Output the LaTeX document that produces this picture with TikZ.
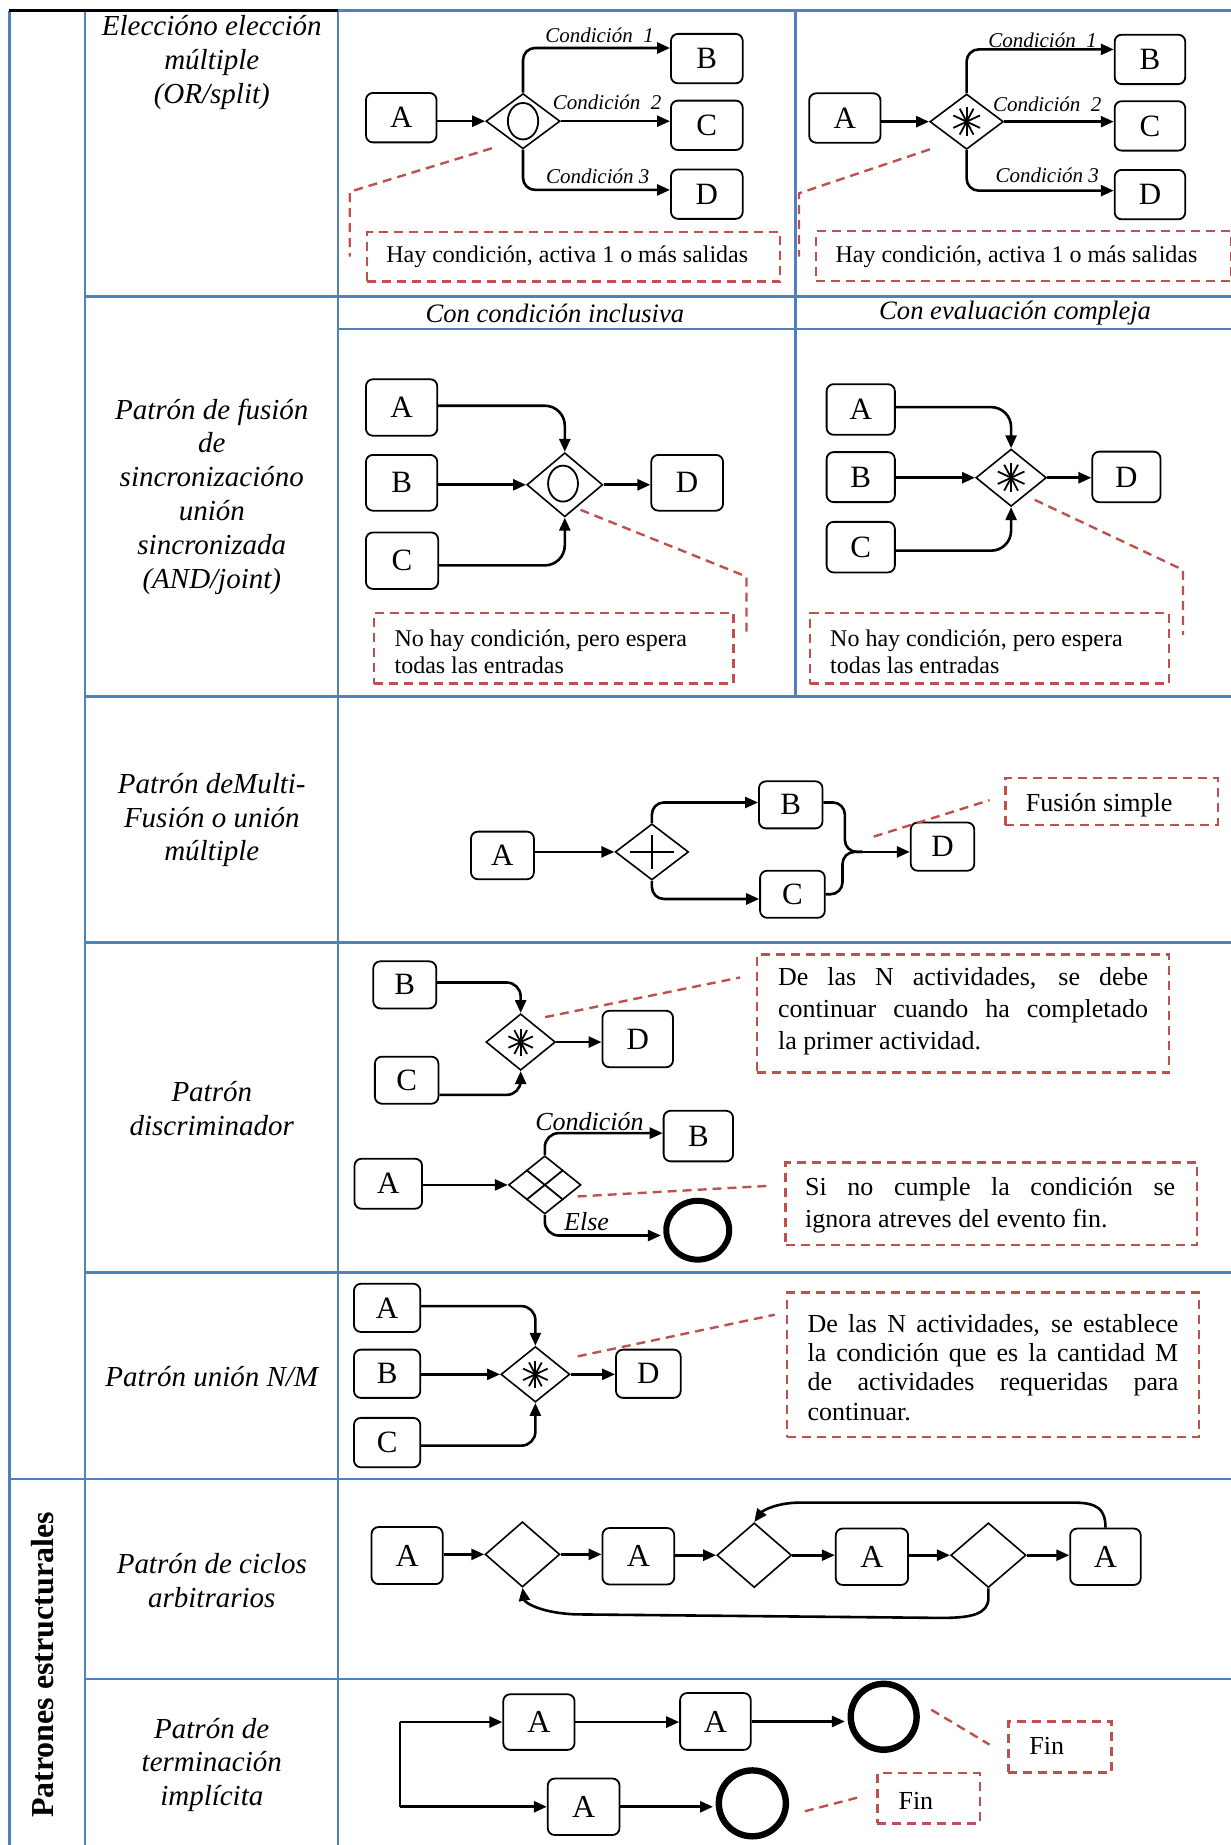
\documentclass[tikz,border=0pt]{standalone}
\usepackage{fontspec}
\setmainfont{Liberation Serif}
\usetikzlibrary{shapes.geometric,arrows.meta,calc}
\definecolor{gridblue}{HTML}{4F81BD}
\definecolor{notered}{HTML}{C0504D}
\newcommand{\upx}{0.58845pt}
\newcommand{\drawast}[2]{\foreach \angx in {90,25,155,62,118}{\draw[line width=0.9pt] ($(#1.center)+(\angx:#2)$) -- ($(#1.center)+(\angx+180:#2)$);}}
\begin{document}
\begin{tikzpicture}[x=0.58845pt,y=-0.58845pt,
  grid/.style={draw=gridblue,line width=1.1pt},
  lbl/.style={align=center,inner sep=0pt,font=\fontsize{14.5}{16.9}\selectfont\itshape},
  hdr/.style={inner sep=0pt,font=\fontsize{13.3}{15}\selectfont\itshape},
  bx/.style 2 args={draw,line width=0.9pt,rounded corners=3.5pt,inner sep=0pt,minimum width=#1*\upx,minimum height=#2*\upx,font=\fontsize{15.5}{18}\selectfont},
  gw/.style 2 args={draw,diamond,line width=0.8pt,inner sep=0pt,minimum width=#1*\upx,minimum height=#2*\upx},
  endev/.style 2 args={draw,ellipse,line width=3pt,inner sep=0pt,minimum width=#1*\upx,minimum height=#2*\upx},
  arr/.style={line width=1.3pt,-{Triangle[length=6.5pt,width=5.5pt]}},
  flow/.style={line width=1.3pt},
  sym/.style={line width=0.9pt},
  note/.style 2 args={draw=notered,line width=1.2pt,dash pattern=on 4.5pt off 3pt,inner sep=0pt,anchor=north west,minimum width=#1*\upx,minimum height=#2*\upx},
  noteline/.style={draw=notered,line width=1.2pt,dash pattern=on 4.5pt off 3pt},
  ntxt/.style={inner sep=0pt,anchor=west,align=left,font=\fontsize{12}{13.4}\selectfont},
  ntxtb/.style={inner sep=0pt,anchor=west,align=left,font=\fontsize{13}{15.9}\selectfont},
  condA/.style={inner sep=0pt,font=\fontsize{10.5}{12}\selectfont\itshape},
  condB/.style={inner sep=0pt,font=\fontsize{13}{15}\selectfont\itshape}
]
\useasboundingbox (0,0) rectangle (1046,1568);

% ---------- table grid ----------
\draw[grid] (287,9) -- (1046,9);
\draw[grid] (8,9) -- (8,1568);
\draw[grid] (72,9) -- (72,1568);
\draw[grid] (287,9) -- (287,1568);
\draw[grid] (676,9) -- (676,592);
\draw[grid] (72,252) -- (1046,252);
\draw[grid] (287,279.5) -- (1046,279.5);
\draw[grid] (72,592) -- (1046,592);
\draw[grid] (72,801) -- (1046,801);
\draw[grid] (72,1081.5) -- (1046,1081.5);
\draw[grid] (8,1257) -- (1046,1257);
\draw[grid] (72,1427) -- (1046,1427);
\draw[black,line width=1.4pt] (8,9) -- (287,9);

% ---------- left labels ----------
\node[lbl] (l1) at (180,53) {Eleccióno elección\\múltiple\\(OR/split)};
\node[lbl] (l2) at (180,422) {Patrón de fusión\\de\\sincronizacióno\\unión\\sincronizada\\(AND/joint)};
\node[lbl] (l3) at (180,697) {Patrón deMulti-\\Fusión o unión\\múltiple};
\node[lbl] (l4) at (180,942) {Patrón\\discriminador};
\node[lbl] (l5) at (180,1170) {Patrón unión N/M};
\node[lbl] (l6) at (180,1343) {Patrón de ciclos\\arbitrarios};
\node[lbl] (l7) at (180,1500) {Patrón de\\terminación\\implícita};
\node[rotate=90,inner sep=0pt,font=\fontsize{16}{18}\selectfont\bfseries] (grp) at (36,1415) {Patrones estructurales};

\node[hdr] (h1) at (471.6,266) {Con condición inclusiva};
\node[hdr] (h2) at (862.7,266) {Con evaluación compleja};

% ---------- row 1 left ----------
\node[bx={60}{42}] (oA) at (341,100) {A};
\node[gw={63}{47}] (oG) at (444.5,103) {};
\draw[sym] (oG.center) ellipse [x radius=12.9, y radius=15.5];
\node[bx={61}{42}] (oB) at (600.7,49.8) {B};
\node[bx={61}{42}] (oC) at (600.7,106.5) {C};
\node[bx={61}{42}] (oD) at (600.7,165) {D};
\draw[arr] (oG.west -| oA.east) -- (oG.west);
\draw[arr,rounded corners=6pt] (oG.north) |- ([yshift=9*\upx]oB.west);
\draw[arr] (oG.east) -- (oG.east -| oC.west);
\draw[arr,rounded corners=6pt] (oG.south) |- ([yshift=3.6*\upx]oD.west);
\node[condA] (oL1) at (509.5,30) {Condición\ \ 1};
\node[condA] (oL2) at (516,87) {Condición\ \ 2};
\node[condA] (oL3) at (508,150) {Condición 3};
\node[note={351}{42}] (oN) at (311,196.3) {};
\node[ntxt] (oT) at (328,218) {Hay condición, activa 1 o más salidas};
\coordinate (oP1) at (418,126);
\coordinate (oP2) at (297.2,163);
\coordinate (oP3) at (297.2,218);
\draw[noteline] (oP1) -- (oP2) -- (oP3);

% ---------- row 1 right ----------
\node[bx={60.6}{42}] (xA) at (718,100.3) {A};
\node[gw={62.5}{47}] (xG) at (821.5,103.4) {};
\drawast{xG}{12.5}
\node[bx={60}{42}] (xB) at (977.3,50.5) {B};
\node[bx={60}{42}] (xC) at (977.3,107) {C};
\node[bx={60}{42}] (xD) at (977.3,165.4) {D};
\draw[arr] (xG.west -| xA.east) -- (xG.west);
\draw[arr,rounded corners=6pt] (xG.north) |- ([yshift=8.5*\upx]xB.west);
\draw[arr] (xG.east) -- (xG.east -| xC.west);
\draw[arr,rounded corners=6pt] (xG.south) |- ([yshift=3.4*\upx]xD.west);
\node[condA] (xL1) at (886,34) {Condición\ \ 1};
\node[condA] (xL2) at (890,89) {Condición\ \ 2};
\node[condA] (xL3) at (890,149) {Condición 3};
\node[note={352.3}{42.5}] (xN) at (692.7,195.5) {};
\node[ntxt] (xT) at (709.8,218) {Hay condición, activa 1 o más salidas};
\coordinate (xP1) at (790.2,126.9);
\coordinate (xP2) at (679,164.3);
\coordinate (xP3) at (679,218);
\draw[noteline] (xP1) -- (xP2) -- (xP3);

% ---------- row 2 left ----------
\node[bx={60.6}{48}] (iA) at (341.3,346.3) {A};
\node[bx={60.6}{47.4}] (iB) at (341.3,410.3) {B};
\node[bx={61.4}{48}] (iC) at (341.7,476.5) {C};
\node[gw={64.5}{54.5}] (iG) at (480,412) {};
\draw[sym] ($(iG.center)+(-1.5,-1)$) ellipse [x radius=12.7, y radius=15.3];
\node[bx={61}{47.4}] (iD) at (584,410.3) {D};
\draw[arr,rounded corners=10pt] ([yshift=1.5*\upx]iA.east) -| (iG.north);
\draw[arr] (iG.west -| iB.east) -- (iG.west);
\draw[arr,rounded corners=10pt] ([yshift=-4*\upx]iC.east) -| (iG.south);
\draw[arr] (iG.east) -- (iG.east -| iD.west);
\node[note={305.5}{60.3}] (iN) at (317,519.7) {};
\node[ntxt] (iT) at (335,553.7) {No hay condición, pero espera\\todas las entradas};
\coordinate (iP1) at (493.4,433.3);
\coordinate (iP2) at (634.4,490);
\coordinate (iP3) at (634.4,536.7);
\draw[noteline] (iP1) -- (iP2) -- (iP3);

% ---------- row 2 right ----------
\node[bx={58}{43}] (eA) at (731.5,348) {A};
\node[bx={58}{42.5}] (eB) at (731.5,405.5) {B};
\node[bx={58}{43}] (eC) at (731.5,465) {C};
\node[gw={60}{48.7}] (eG) at (859.3,406) {};
\drawast{eG}{12.5}
\node[bx={58}{43}] (eD) at (957.3,405.3) {D};
\draw[arr,rounded corners=10pt] ([yshift=2*\upx]eA.east) -| (eG.north);
\draw[arr] (eG.west -| eB.east) -- (eG.west);
\draw[arr,rounded corners=10pt] ([yshift=-3*\upx]eC.east) -| (eG.south);
\draw[arr] (eG.east) -- (eG.east -| eD.west);
\node[note={305}{60.3}] (eN) at (687.6,519.7) {};
\node[ntxt] (eT) at (705.2,553.7) {No hay condición, pero espera\\todas las entradas};
\coordinate (eP1) at (879.4,424.8);
\coordinate (eP2) at (1005.4,484.3);
\coordinate (eP3) at (1005.4,539.5);
\draw[noteline] (eP1) -- (eP2) -- (eP3);

% ---------- row 3 ----------
\node[bx={53.5}{40.5}] (mA) at (427,727) {A};
\node[gw={62.4}{47.7}] (mG) at (554,724) {};
\draw[sym] ($(mG.center)+(-19,0)$) -- ($(mG.center)+(19,0)$);
\draw[sym] ($(mG.center)+(0,-14.5)$) -- ($(mG.center)+(0,14.5)$);
\node[bx={54}{40}] (mB) at (672,684) {B};
\node[bx={55}{40}] (mC) at (673.5,760) {C};
\node[bx={54}{41}] (mD) at (801,719.5) {D};
\coordinate (mM) at (733,724);
\draw[arr] (mG.west -| mA.east) -- (mG.west);
\draw[arr,rounded corners=6pt] (mG.north) |- ([yshift=2*\upx]mB.west);
\draw[arr,rounded corners=6pt] (mG.south) |- ([yshift=-4*\upx]mC.west);
\draw[flow,rounded corners=6pt] ([yshift=2*\upx]mB.east) -- (718,682) -- (718,724) -- (mM);
\draw[flow,rounded corners=6pt] (mC.east) -- (716,760) -- (716,724) -- (mM);
\draw[arr] (mM) -- (mM -| mD.west);
\node[note={180.5}{40}] (mN) at (853.5,660) {};
\node[ntxtb] (mT) at (871.5,684) {Fusión simple};
\coordinate (mP1) at (742.6,711);
\coordinate (mP2) at (841,680);
\draw[noteline] (mP1) -- (mP2);

% ---------- row 4 top ----------
\node[bx={53.5}{40}] (dB) at (344,837) {B};
\node[bx={54}{40}] (dC) at (345.6,918) {C};
\node[gw={59}{48}] (dG) at (442.5,885.6) {};
\drawast{dG}{11.5}
\node[bx={60}{48}] (dD) at (542,883) {D};
\draw[arr,rounded corners=7pt] ([yshift=2*\upx]dB.east) -| (dG.north);
\draw[arr,rounded corners=7pt] ([yshift=-12.5*\upx]dC.east) -| (dG.south);
\draw[arr] (dG.east) -- (dG.east -| dD.west);
\node[note={350.1}{100.6}] (dN) at (642.5,810) {};
\node[ntxtb] (dT) at (661,859.6) {\makebox[185pt][s]{De las N actividades, se debe}\\\makebox[185pt][s]{continuar cuando ha completado}\\la primer actividad.};
\coordinate (dP1) at (463.3,864.4);
\coordinate (dP2) at (629,830.7);
\draw[noteline] (dP1) -- (dP2);

% ---------- row 4 bottom ----------
\node[bx={57.4}{42.5}] (kA) at (330,1006) {A};
\node[gw={61.5}{49.5}] (kG) at (463,1007) {};
\draw[sym] ($(kG.north)!0.5!(kG.west)$) -- ($(kG.south)!0.5!(kG.east)$);
\draw[sym] ($(kG.north)!0.5!(kG.east)$) -- ($(kG.south)!0.5!(kG.west)$);
\node[bx={59}{43}] (kB) at (593.5,965.5) {B};
\node[endev={53.5}{50}] (kE) at (593,1045.5) {};
\draw[arr] (kG.west -| kA.east) -- (kG.west);
\draw[arr,rounded corners=7pt] (kG.north) |- ([yshift=2.5*\upx]kB.west);
\draw[arr,rounded corners=7pt,shorten >=1.2pt] (kG.south) |- ([yshift=-4.5*\upx]kE.west);
\node[condB] (kL1) at (501,953) {Condición};
\node[condB] (kL2) at (498.5,1038) {Else};
\node[note={349.3}{70.3}] (kN) at (666.7,987) {};
\node[ntxtb] (kT) at (684,1024) {\makebox[185pt][s]{Si no cumple la condición se}\\ignora atreves del evento fin.};
\coordinate (kP1) at (491,1016.8);
\coordinate (kP2) at (655,1007.7);
\draw[noteline] (kP1) -- (kP2);

% ---------- row 5 ----------
\node[bx={56.4}{41}] (nA) at (329,1111.5) {A};
\node[bx={56.4}{41}] (nB) at (329,1167.5) {B};
\node[bx={56.4}{42}] (nC) at (329,1226) {C};
\node[gw={58.6}{47.2}] (nG) at (455,1168) {};
\drawast{nG}{11.5}
\node[bx={55}{41}] (nD) at (551,1167.5) {D};
\draw[arr,rounded corners=7pt] ([yshift=1.5*\upx]nA.east) -| (nG.north);
\draw[arr] (nG.west -| nB.east) -- (nG.west);
\draw[arr,rounded corners=7pt] ([yshift=-2.6*\upx]nC.east) -| (nG.south);
\draw[arr] (nG.east) -- (nG.east -| nD.west);
\node[note={350}{122.5}] (nN) at (668,1097.5) {};
\node[ntxtb,font=\fontsize{13}{14.7}\selectfont] (nT) at (686,1162) {\makebox[185.4pt][s]{De las N actividades, se establece}\\\makebox[185.4pt][s]{la condición que es la cantidad M}\\\makebox[185.4pt][s]{de actividades requeridas para}\\continuar.};
\coordinate (nP1) at (491,1152.7);
\coordinate (nP2) at (658.5,1117.3);
\draw[noteline] (nP1) -- (nP2);

% ---------- row 6 ----------
\node[bx={60.5}{48.5},font=\fontsize{16}{18}\selectfont] (cA1) at (346,1322) {A};
\node[gw={63.5}{55.5}] (cG1) at (444,1321) {};
\node[bx={61}{48},font=\fontsize{16}{18}\selectfont] (cA2) at (542.5,1322.6) {A};
\node[gw={63.4}{55}] (cG2) at (641,1321.7) {};
\node[bx={61.5}{48},font=\fontsize{16}{18}\selectfont] (cA3) at (741,1323) {A};
\node[gw={64}{55}] (cG3) at (840,1321.7) {};
\node[bx={60}{48},font=\fontsize{16}{18}\selectfont] (cA4) at (939.5,1323) {A};
\draw[arr] (cG1.west -| cA1.east) -- (cG1.west);
\draw[arr] (cG1.east) -- (cG1.east -| cA2.west);
\draw[arr] (cG2.west -| cA2.east) -- (cG2.west);
\draw[arr] (cG2.east) -- (cG2.east -| cA3.west);
\draw[arr] (cG3.west -| cA3.east) -- (cG3.west);
\draw[arr] (cG3.east) -- (cG3.east -| cA4.west);
\draw[arr] (cA4.north) .. controls (939.5,1282) and (932,1277) .. (912,1277) -- (680,1277) .. controls (660,1277) and (648,1284) .. (cG2.north);
\draw[arr] (cG3.south) -- (840,1358) .. controls (840,1372) and (825,1375) .. (800,1375) -- (490,1372) .. controls (460,1371) and (446,1362) .. (cG1.south);

% ---------- row 7 ----------
\coordinate (tS1) at (340,1463.5);
\coordinate (tS2) at (340,1535.5);
\node[bx={60.6}{47.3},font=\fontsize{16}{18}\selectfont] (tA1) at (458,1463.5) {A};
\node[bx={60}{48.3},font=\fontsize{16}{18}\selectfont] (tA2) at (608,1463) {A};
\node[endev={56}{56},line width=3.2pt] (tE1) at (751,1459) {};
\node[bx={61}{48},font=\fontsize{16}{18}\selectfont] (tA3) at (496,1535.5) {A};
\node[endev={57}{56},line width=3.2pt] (tE2) at (639.4,1532.6) {};
\draw[flow] (tS1) -- (tS2);
\draw[arr] (tS1) -- (tA1.west);
\draw[arr] (tS2) -- (tA3.west);
\draw[arr] (tA1.east) -- (tA1.east -| tA2.west);
\draw[arr,shorten >=1.3pt] (tA2.east) -- (tA2.east -| tE1.west);
\draw[arr,shorten >=1.3pt] (tA3.east) -- (tA3.east -| tE2.west);
\node[note={87.7}{43.3}] (tF1) at (856,1462) {};
\node[ntxtb] (tT1) at (874.5,1484) {Fin};
\node[note={86.9}{42.6}] (tF2) at (744.7,1506) {};
\node[ntxtb] (tT2) at (763.3,1530.8) {Fin};
\coordinate (tP1) at (791.5,1453);
\coordinate (tP2) at (841,1482.7);
\coordinate (tP3) at (684,1539.3);
\coordinate (tP4) at (731.5,1527);
\draw[noteline] (tP1) -- (tP2);
\draw[noteline] (tP3) -- (tP4);
\end{tikzpicture}
\end{document}
